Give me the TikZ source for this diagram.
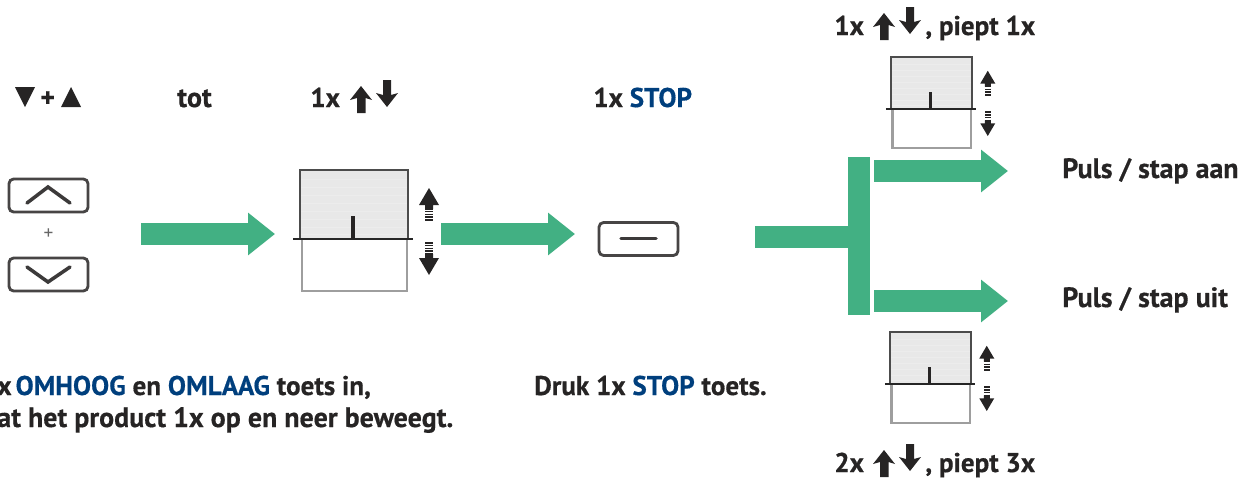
\documentclass[tikz,border=0pt]{standalone}
\usepackage{fontspec}
\setmainfont{PT Sans}[BoldFeatures={FakeBold=0.5}]
\usetikzlibrary{arrows.meta}
\definecolor{grn}{HTML}{42B083}
\definecolor{ink}{HTML}{262424}
\definecolor{navy}{HTML}{003F7D}
\newcommand{\bl}[1]{\textcolor{navy}{#1}}
\tikzset{
  x=0.02cm,y=-0.02cm,
  lab/.style={anchor=base west,inner sep=0pt,text=ink,font=\bfseries\fontsize{15.9}{18}\selectfont},
  nar/.style={lab,font=\bfseries\fontsize{15.4}{18}\selectfont},
  flow/.style={draw=grn,line width=0.44cm,-{Triangle[length=0.54cm,width=0.82cm,sep=0pt]}},
  bar/.style={fill=grn,draw=none},
  key/.style={draw=ink!85,line width=1.6pt,rounded corners=2.6pt,minimum width=1.58cm,minimum height=0.66cm,inner sep=0pt,fill=white},
  glyph/.style={draw=ink!90,line width=2pt,line cap=round,line join=miter},
  pics/blind/.style={code={
    \fill[black!9] (0,-69) rectangle (108,0);
    \foreach \yy in {-60,-52,-44,-36,-28,-20,-12,-5}{\draw[white!70!black!25,line width=.35pt] (1,\yy) -- (107,\yy);}
    \draw[black!70,line width=#1*1.5pt] (0,0) -- (0,-69) -- (108,-69) -- (108,0);
    \draw[black!38,line width=#1*1.5pt] (2,0) -- (2,52) -- (107,52) -- (107,0);
    \draw[black!85,line width=#1*1.3pt] (-7,0) -- (113,0);
    \draw[ink,line width=#1*1.9pt] (53,0) -- (53,-23);
    \fill[ink] (129,-51) -- (139,-34) -- (133,-34) -- (133,-30) -- (125,-30) -- (125,-34) -- (119,-34) -- cycle;
    \draw[ink,line width=#1*4.2pt,dash pattern=on .9pt off .7pt] (129,-31) -- (129,-17);
    \draw[ink,line width=#1*4.2pt,dash pattern=on .9pt off .7pt] (129,3) -- (129,20);
    \fill[ink] (129,36) -- (139,19) -- (133,19) -- (133,15) -- (125,15) -- (125,19) -- (119,19) -- cycle;
  }},
  pics/updown/.style={code={
    \fill[ink] (11,0) -- (22,14) -- (15.5,12) -- (15.5,27) -- (7,27) -- (7,12) -- (0,14) -- cycle;
    \fill[ink] (37,21) -- (26,7) -- (33,9) -- (33,-6) -- (41,-6) -- (41,9) -- (48,7) -- cycle;
  }},
}
\begin{document}
\begin{tikzpicture}
\useasboundingbox (0,0) rectangle (1250,480);
% top labels
\fill[ink] (15,87) -- (35,87) -- (25,107) -- cycle;
\node[lab] (plus) at (40,107) {+};
\fill[ink] (71,87) -- (81,107) -- (61,107) -- cycle;
\node[lab] (tot) at (177,107) {tot};
\node[nar] (onex) at (310,107) {1x};
\pic at (350,86) {updown};
\node[nar] (stoplabel) at (593,107) {1x \bl{STOP}};
\node[nar] (toplabel) at (834,35) {1x};
\pic at (873,13) {updown};
\node[nar] (toptail) at (925,35) {, piept 1x};
% keys
\node[key] (keyup) at (48.5,195.5) {};
\draw[glyph] (27,203) -- (48,187) -- (70,203);
\node[inner sep=0pt,text=black!60,font=\fontsize{11}{12}\selectfont] (keyplus) at (48.5,234) {+};
\node[key] (keydown) at (48.5,274.5) {};
\draw[glyph] (27,267) -- (48,282) -- (70,267);
\node[key] (keystop) at (638.5,239) {};
\draw[glyph] (621,238.5) -- (656,238.5);
% blinds
\pic at (300,239) {blind=1};
\pic[scale=.75] at (891,109) {blind=.8};
\pic[scale=.75] at (890,384) {blind=.8};
% green arrows
\coordinate (a1) at (141,234);
\coordinate (a1e) at (275,234);
\coordinate (a2) at (441,234);
\coordinate (a2e) at (575,234);
\coordinate (a3) at (874,171);
\coordinate (a3e) at (1008,171);
\coordinate (a4) at (874,301);
\coordinate (a4e) at (1008,301);
\draw[flow] (a1) -- (a1e);
\draw[flow] (a2) -- (a2e);
\draw[flow] (a3) -- (a3e);
\draw[flow] (a4) -- (a4e);
\fill[bar] (755,226) rectangle (850,248);
\fill[bar] (848,157) rectangle (870,315);
% right labels
\node[lab] (aan) at (1062,178) {Puls / stap aan};
\node[lab] (uit) at (1062,307) {Puls / stap uit};
% bottom labels
\node[nar] (l1) at (-3,395) {x\hspace{-1.6pt} \bl{OMHOOG} en \bl{OMLAAG} toets in,};
\node[lab] (l2) at (-3,427) {at het product 1x op en neer beweegt.};
\node[nar] (druk) at (534,395) {Druk 1x \bl{STOP} toets.};
\node[nar] (botlabel) at (834,472) {2x};
\pic at (873,450) {updown};
\node[nar] (bottail) at (925,472) {, piept 3x};
\end{tikzpicture}
\end{document}
